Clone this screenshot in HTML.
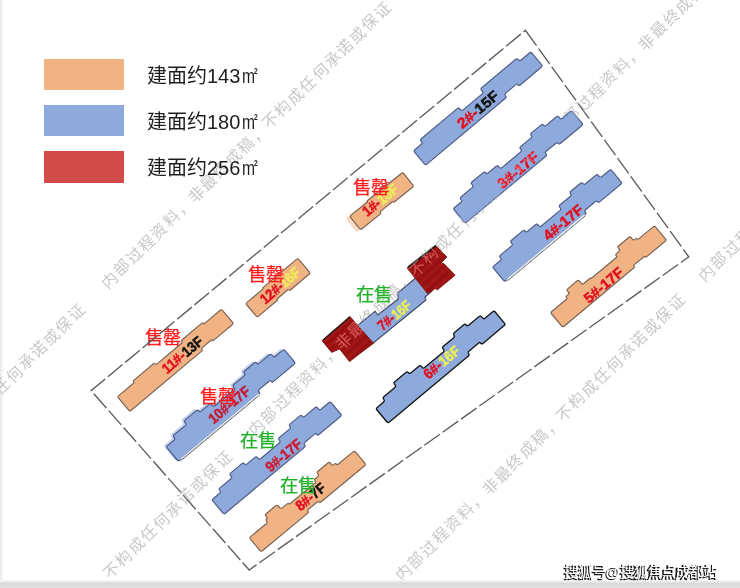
<!DOCTYPE html>
<html lang="zh-CN"><head><meta charset="utf-8">
<style>
html,body{margin:0;padding:0;width:740px;height:588px;overflow:hidden;background:#fff;}
#wrap{position:absolute;left:0;top:0;width:740px;height:588px;filter:blur(0.45px);}
body{font-family:"Liberation Sans",sans-serif;position:relative;}
svg{position:absolute;left:0;top:0;}
.lg{position:absolute;left:147px;font-size:20px;color:#1e1e1e;white-space:nowrap;line-height:1;}
.m{display:inline-block;transform:scaleX(0.78);transform-origin:0 0;margin-left:1.5px;font-weight:normal;}
.m sup{font-size:8.5px;vertical-align:0;position:relative;top:-8.6px;left:-1.4px;font-weight:bold;}
.bl{font-family:"Liberation Sans",sans-serif;font-weight:bold;}
.st{font-family:"Liberation Sans",sans-serif;}
.wm{font-family:"Liberation Sans",sans-serif;font-weight:350;}
.sh{position:absolute;left:563px;top:566px;font-size:14.5px;letter-spacing:-0.15px;color:#1a1a1a;white-space:nowrap;line-height:1;font-weight:bold;}
.sh2{position:absolute;left:564px;top:565.3px;font-size:14.5px;letter-spacing:-0.15px;color:#fff;white-space:nowrap;line-height:1;font-weight:normal;opacity:1}
</style></head><body><div id="wrap">
<svg width="740" height="588" viewBox="0 0 740 588">
  <defs>
    <linearGradient id="lgrad" x1="0" x2="1" y1="0" y2="0">
      <stop offset="0" stop-color="#e8e8e8"/><stop offset="1" stop-color="#fff"/>
    </linearGradient>
    <linearGradient id="bgrad" x1="0" x2="0" y1="0" y2="1">
      <stop offset="0" stop-color="#fdfdfd"/><stop offset="0.2" stop-color="#ebebeb"/><stop offset="0.45" stop-color="#d9d9d9"/><stop offset="0.7" stop-color="#dddddd"/><stop offset="1" stop-color="#e3e3e3"/>
    </linearGradient>
  </defs>
  <rect x="0" y="0" width="4" height="588" fill="url(#lgrad)"/>
  <rect x="44" y="59" width="80" height="31" fill="#f1b383"/>
  <rect x="44" y="105" width="80" height="31" fill="#8eaadc"/>
  <rect x="44" y="151" width="80" height="32" fill="#d14b4b"/>

<path d="M414.7,152.3 Q413.5,150.9 414.9,149.7 L421.3,144.3 Q422.7,143.2 421.5,141.8 L421.1,141.2 Q419.9,139.9 421.3,138.7 L457.2,108.6 Q458.6,107.4 459.8,108.8 L460.6,109.7 Q461.7,111.1 463.1,109.9 L482.2,93.9 Q483.5,92.8 482.4,91.4 L481.5,90.3 Q480.3,88.9 481.7,87.8 L515.7,59.3 Q517.1,58.1 518.3,59.5 L518.5,59.8 Q519.7,61.2 521.1,60.0 L529.4,53.0 Q530.8,51.9 531.9,53.2 L541.5,64.7 Q542.7,66.0 541.3,67.2 L520.1,85.0 Q518.9,85.9 518.0,84.8 L518.0,84.8 Q517.0,83.6 515.9,84.6 L505.7,93.1 Q504.4,94.2 505.5,95.6 L505.6,95.8 Q506.8,97.2 505.4,98.3 L427.0,164.1 Q425.6,165.3 424.4,163.9Z" fill="#8eaadc" stroke="#4f5d86" stroke-width="1.2" stroke-linejoin="round"/>
<path d="M454.3,210.1 Q453.1,208.7 454.5,207.5 L461.0,202.2 Q462.3,201.0 461.2,199.6 L460.9,199.3 Q459.8,197.9 461.2,196.8 L472.2,187.6 Q473.6,186.4 472.5,185.0 L471.9,184.4 Q470.7,183.0 472.1,181.8 L483.2,172.6 Q484.6,171.4 485.7,172.8 L485.7,172.8 Q486.8,174.1 488.1,173.0 L496.2,166.3 Q497.6,165.2 498.7,166.6 L499.4,167.4 Q500.6,168.8 501.9,167.6 L520.7,152.0 Q522.1,150.9 520.9,149.5 L520.5,149.0 Q519.4,147.6 520.8,146.5 L531.1,137.9 Q532.4,136.8 531.3,135.4 L531.3,135.4 Q530.2,134.1 531.5,132.9 L541.2,124.9 Q542.5,123.8 543.6,125.2 L543.6,125.2 Q544.7,126.5 546.1,125.4 L556.4,116.8 Q557.8,115.6 558.9,117.0 L559.8,118.1 Q561.0,119.5 562.4,118.3 L570.2,111.8 Q571.5,110.7 572.7,112.1 L581.9,123.1 Q583.1,124.5 581.7,125.7 L560.2,143.5 Q559.1,144.5 558.1,143.4 L558.1,143.3 Q557.2,142.2 556.0,143.2 L546.2,151.3 Q544.9,152.4 546.0,153.8 L546.0,153.8 Q547.1,155.1 545.8,156.2 L466.7,222.1 Q465.3,223.3 464.1,221.9Z" fill="#8eaadc" stroke="#4f5d86" stroke-width="1.2" stroke-linejoin="round"/>
<path d="M493.6,268.4 Q492.5,267.1 493.9,265.9 L500.3,260.5 Q501.7,259.4 500.6,258.0 L500.3,257.7 Q499.1,256.3 500.5,255.1 L511.6,245.9 Q513.0,244.8 511.8,243.4 L511.3,242.7 Q510.1,241.3 511.5,240.2 L522.6,230.9 Q523.9,229.8 525.0,231.1 L525.1,231.1 Q526.2,232.5 527.5,231.4 L535.5,224.7 Q536.9,223.5 538.1,224.9 L538.8,225.8 Q539.9,227.1 541.3,226.0 L560.1,210.4 Q561.4,209.2 560.3,207.8 L559.9,207.4 Q558.8,206.0 560.1,204.8 L570.5,196.2 Q571.8,195.1 570.7,193.8 L570.7,193.8 Q569.6,192.4 570.9,191.3 L580.5,183.3 Q581.9,182.2 583.0,183.5 L583.0,183.5 Q584.1,184.9 585.5,183.8 L595.8,175.1 Q597.2,174.0 598.3,175.4 L599.2,176.4 Q600.4,177.8 601.8,176.7 L609.2,170.5 Q610.6,169.3 611.8,170.7 L621.0,181.8 Q622.1,183.1 620.7,184.3 L599.6,201.9 Q598.5,202.9 597.5,201.7 L597.5,201.7 Q596.5,200.6 595.4,201.5 L585.6,209.7 Q584.2,210.8 585.4,212.1 L585.4,212.1 Q586.5,213.5 585.1,214.6 L506.0,280.5 Q504.7,281.6 503.5,280.3Z" fill="#8eaadc" stroke="#4f5d86" stroke-width="1.2" stroke-linejoin="round"/>
<path d="M507.7,280.6 L585.3,215.9" stroke="#6a6a6a" stroke-width="1" fill="none"/>
<path d="M506.9,279.7 L584.5,215.0" stroke="#fff" stroke-width="1.1" fill="none"/>
<path d="M551.6,314.0 Q550.5,312.7 551.8,311.5 L566.4,299.3 Q567.3,298.6 566.5,297.6 L566.5,297.6 Q565.7,296.6 566.7,295.8 L568.2,294.6 Q569.6,293.4 568.4,292.0 L567.6,291.1 Q566.5,289.7 567.9,288.6 L577.0,281.0 Q578.4,279.8 579.5,281.2 L581.3,283.3 Q582.4,284.6 583.8,283.5 L590.1,278.2 Q590.5,277.9 590.8,278.3 L590.8,278.3 Q591.1,278.7 591.5,278.3 L616.1,257.8 Q617.2,256.9 616.2,255.7 L616.2,255.7 Q615.3,254.6 616.4,253.6 L618.9,251.5 Q620.3,250.4 619.1,249.0 L618.5,248.3 Q617.4,246.9 618.8,245.8 L628.7,237.5 Q630.0,236.4 631.2,237.7 L632.4,239.2 Q633.6,240.6 634.9,239.4 L635.9,238.6 Q636.6,238.0 637.3,238.8 L637.3,238.8 Q637.9,239.5 638.7,238.9 L653.1,226.9 Q654.5,225.7 655.6,227.1 L665.4,238.8 Q666.5,240.1 665.1,241.3 L646.4,256.9 Q645.8,257.5 645.2,256.8 L645.2,256.8 Q644.6,256.1 643.9,256.7 L634.1,264.9 Q633.3,265.5 634.0,266.3 L634.0,266.3 Q634.7,267.2 633.9,267.8 L564.1,326.2 Q562.7,327.3 561.6,325.9Z" fill="#f1b383" stroke="#7b6455" stroke-width="1.2" stroke-linejoin="round"/>
<path d="M377.0,410.0 Q375.8,408.6 377.2,407.5 L383.6,402.1 Q385.0,400.9 383.9,399.5 L383.6,399.2 Q382.5,397.8 383.8,396.7 L394.9,387.5 Q396.3,386.3 395.1,384.9 L394.6,384.2 Q393.4,382.9 394.8,381.7 L405.9,372.4 Q407.2,371.3 408.3,372.7 L408.4,372.7 Q409.5,374.0 410.8,372.9 L418.8,366.2 Q420.2,365.1 421.4,366.4 L422.1,367.3 Q423.2,368.7 424.6,367.5 L443.4,351.9 Q444.7,350.7 443.6,349.3 L443.2,348.9 Q442.0,347.5 443.4,346.3 L453.8,337.7 Q455.1,336.6 454.0,335.3 L454.0,335.3 Q452.9,333.9 454.2,332.8 L463.8,324.8 Q465.1,323.7 466.3,325.0 L466.3,325.0 Q467.4,326.4 468.7,325.2 L479.1,316.6 Q480.4,315.5 481.6,316.9 L482.5,317.9 Q483.6,319.3 485.0,318.2 L492.7,311.8 Q494.0,310.6 495.2,312.0 L504.4,323.1 Q505.6,324.5 504.2,325.6 L482.9,343.4 Q481.7,344.3 480.8,343.2 L480.8,343.2 Q479.8,342.0 478.7,343.0 L468.9,351.2 Q467.5,352.3 468.6,353.6 L468.7,353.6 Q469.8,355.0 468.4,356.1 L389.4,422.0 Q388.0,423.2 386.8,421.8Z" fill="#8eaadc" stroke="#151515" stroke-width="1.35" stroke-linejoin="round"/>
<path d="M250.5,539.1 Q249.3,537.7 250.7,536.6 L266.5,523.5 Q267.8,522.4 266.7,521.1 L266.4,520.7 Q265.6,519.7 266.5,518.9 L266.6,518.9 Q267.5,518.1 266.7,517.2 L265.9,516.2 Q264.8,514.8 266.2,513.7 L275.7,505.8 Q277.1,504.6 278.3,506.0 L279.7,507.7 Q280.8,509.1 282.2,507.9 L287.5,503.6 Q288.1,503.0 288.7,503.7 L288.7,503.7 Q289.2,504.4 289.9,503.8 L315.0,483.1 Q316.2,482.1 315.2,480.8 L315.2,480.8 Q314.1,479.6 315.4,478.6 L317.8,476.6 Q319.2,475.4 318.0,474.1 L317.8,473.7 Q316.6,472.4 318.0,471.2 L327.9,463.0 Q329.3,461.8 330.5,463.2 L331.4,464.3 Q332.5,465.7 333.9,464.6 L334.6,463.9 Q335.6,463.2 336.4,464.1 L336.4,464.1 Q337.2,465.1 338.1,464.3 L353.1,451.9 Q354.5,450.8 355.7,452.2 L364.8,463.2 Q366.0,464.6 364.6,465.8 L320.6,502.2 Q319.7,502.8 319.1,502.0 L319.0,502.0 Q318.3,501.2 317.5,501.8 L308.1,509.6 Q307.2,510.4 308.0,511.3 L308.0,511.4 Q308.8,512.3 307.8,513.1 L262.4,550.7 Q261.0,551.8 259.8,550.4Z" fill="#f1b383" stroke="#7b6455" stroke-width="1.2" stroke-linejoin="round"/>
<path d="M213.0,501.2 Q211.9,499.8 213.2,498.7 L219.7,493.3 Q221.1,492.1 219.9,490.7 L219.7,490.4 Q218.5,489.0 219.9,487.9 L230.9,478.7 Q232.3,477.5 231.2,476.1 L230.6,475.4 Q229.4,474.1 230.8,472.9 L241.9,463.6 Q243.2,462.5 244.4,463.8 L244.4,463.9 Q245.5,465.2 246.8,464.1 L254.8,457.4 Q256.2,456.2 257.4,457.6 L258.1,458.4 Q259.2,459.8 260.6,458.7 L279.3,443.0 Q280.7,441.9 279.6,440.5 L279.2,440.0 Q278.0,438.6 279.4,437.5 L289.7,428.9 Q291.1,427.7 290.0,426.4 L289.9,426.4 Q288.8,425.1 290.2,423.9 L299.8,415.9 Q301.1,414.8 302.2,416.1 L302.2,416.1 Q303.4,417.5 304.7,416.4 L315.0,407.7 Q316.4,406.6 317.6,408.0 L318.4,409.0 Q319.6,410.4 321.0,409.3 L328.8,402.7 Q330.2,401.6 331.4,402.9 L340.6,414.0 Q341.8,415.4 340.4,416.5 L318.9,434.5 Q317.7,435.5 316.8,434.3 L316.8,434.3 Q315.8,433.1 314.6,434.1 L304.9,442.3 Q303.5,443.4 304.6,444.7 L304.6,444.8 Q305.8,446.1 304.4,447.2 L225.4,513.2 Q224.0,514.4 222.9,513.0Z" fill="#8eaadc" stroke="#4f5d86" stroke-width="1.2" stroke-linejoin="round"/>
<path d="M167.4,448.1 Q166.2,446.8 167.6,445.6 L174.0,440.2 Q175.4,439.1 174.3,437.7 L174.0,437.4 Q172.9,436.0 174.2,434.8 L185.3,425.6 Q186.7,424.5 185.5,423.1 L185.0,422.4 Q183.8,421.0 185.2,419.9 L196.3,410.6 Q197.6,409.5 198.7,410.8 L198.8,410.8 Q199.9,412.2 201.2,411.1 L209.2,404.4 Q210.6,403.2 211.8,404.6 L212.5,405.4 Q213.6,406.8 215.0,405.7 L233.8,390.0 Q235.1,388.9 234.0,387.5 L233.6,387.0 Q232.5,385.7 233.8,384.5 L244.2,375.9 Q245.5,374.8 244.4,373.4 L244.4,373.4 Q243.3,372.1 244.6,371.0 L254.2,363.0 Q255.6,361.8 256.7,363.2 L256.7,363.2 Q257.8,364.5 259.1,363.4 L269.5,354.8 Q270.9,353.6 272.0,355.0 L272.9,356.1 Q274.1,357.5 275.4,356.3 L282.6,350.4 Q284.0,349.2 285.1,350.6 L294.3,361.7 Q295.5,363.1 294.1,364.2 L273.3,381.6 Q272.1,382.5 271.2,381.4 L271.2,381.4 Q270.2,380.2 269.1,381.2 L259.3,389.3 Q257.9,390.5 259.0,391.8 L259.1,391.8 Q260.2,393.1 258.8,394.3 L179.8,460.2 Q178.4,461.3 177.2,460.0Z" fill="#8eaadc" opacity="0.55" transform="translate(-2.8,-0.8)"/>
<path d="M167.4,448.1 Q166.2,446.8 167.6,445.6 L174.0,440.2 Q175.4,439.1 174.3,437.7 L174.0,437.4 Q172.9,436.0 174.2,434.8 L185.3,425.6 Q186.7,424.5 185.5,423.1 L185.0,422.4 Q183.8,421.0 185.2,419.9 L196.3,410.6 Q197.6,409.5 198.7,410.8 L198.8,410.8 Q199.9,412.2 201.2,411.1 L209.2,404.4 Q210.6,403.2 211.8,404.6 L212.5,405.4 Q213.6,406.8 215.0,405.7 L233.8,390.0 Q235.1,388.9 234.0,387.5 L233.6,387.0 Q232.5,385.7 233.8,384.5 L244.2,375.9 Q245.5,374.8 244.4,373.4 L244.4,373.4 Q243.3,372.1 244.6,371.0 L254.2,363.0 Q255.6,361.8 256.7,363.2 L256.7,363.2 Q257.8,364.5 259.1,363.4 L269.5,354.8 Q270.9,353.6 272.0,355.0 L272.9,356.1 Q274.1,357.5 275.4,356.3 L282.6,350.4 Q284.0,349.2 285.1,350.6 L294.3,361.7 Q295.5,363.1 294.1,364.2 L273.3,381.6 Q272.1,382.5 271.2,381.4 L271.2,381.4 Q270.2,380.2 269.1,381.2 L259.3,389.3 Q257.9,390.5 259.0,391.8 L259.1,391.8 Q260.2,393.1 258.8,394.3 L179.8,460.2 Q178.4,461.3 177.2,460.0Z" fill="#8eaadc" stroke="#4f5d86" stroke-width="1.2" stroke-linejoin="round"/>
<path d="M181.4,460.3 L259.7,395.0" stroke="#6a6a6a" stroke-width="1" fill="none"/>
<path d="M180.6,459.3 L259.0,394.0" stroke="#fff" stroke-width="1.1" fill="none"/>
<path d="M118.6,398.1 Q117.4,396.7 118.8,395.6 L133.5,383.2 Q134.3,382.6 133.6,381.8 L133.6,381.8 Q133.0,381.0 133.7,380.4 L153.5,363.8 Q154.4,363.0 155.1,363.9 L155.1,363.9 Q155.9,364.8 156.8,364.1 L181.8,343.0 Q182.7,342.3 181.9,341.4 L181.9,341.4 Q181.2,340.5 182.1,339.8 L201.9,323.1 Q202.6,322.5 203.3,323.2 L203.3,323.3 Q203.9,324.0 204.7,323.4 L220.2,310.3 Q221.6,309.2 222.7,310.6 L232.4,322.1 Q233.6,323.5 232.2,324.7 L213.5,340.4 Q212.9,340.9 212.3,340.3 L212.3,340.3 Q211.8,339.6 211.1,340.2 L202.0,347.9 Q201.1,348.6 201.8,349.5 L201.8,349.5 Q202.6,350.4 201.7,351.1 L131.2,410.3 Q129.8,411.5 128.7,410.1Z" fill="#f1b383" stroke="#7b6455" stroke-width="1.2" stroke-linejoin="round"/>
<path d="M350.8,217.7 Q349.6,216.3 351.0,215.1 L367.2,202.2 Q367.6,201.9 367.2,201.5 L367.2,201.5 Q366.9,201.1 367.3,200.8 L401.3,173.5 Q402.7,172.3 403.8,173.7 L412.7,184.8 Q413.9,186.2 412.5,187.3 L394.2,202.0 Q393.7,202.4 393.3,201.9 L393.3,201.9 Q392.9,201.4 392.3,201.8 L380.8,211.1 Q380.0,211.8 380.6,212.5 L380.6,212.5 Q381.2,213.3 380.5,213.9 L362.0,228.8 Q360.6,229.9 359.5,228.5Z" fill="#f1b383" opacity="0.5" transform="translate(-4,2.5)"/>
<path d="M350.8,217.7 Q349.6,216.3 351.0,215.1 L367.2,202.2 Q367.6,201.9 367.2,201.5 L367.2,201.5 Q366.9,201.1 367.3,200.8 L401.3,173.5 Q402.7,172.3 403.8,173.7 L412.7,184.8 Q413.9,186.2 412.5,187.3 L394.2,202.0 Q393.7,202.4 393.3,201.9 L393.3,201.9 Q392.9,201.4 392.3,201.8 L380.8,211.1 Q380.0,211.8 380.6,212.5 L380.6,212.5 Q381.2,213.3 380.5,213.9 L362.0,228.8 Q360.6,229.9 359.5,228.5Z" fill="#f1b383" stroke="#7b6455" stroke-width="1.2" stroke-linejoin="round"/>
<path d="M246.9,305.0 Q245.7,303.6 247.1,302.4 L262.9,289.1 Q263.3,288.8 262.9,288.4 L262.9,288.3 Q262.6,287.9 263.0,287.6 L296.4,259.4 Q297.8,258.3 299.0,259.6 L309.2,271.8 Q310.4,273.2 309.0,274.3 L290.4,290.0 Q289.7,290.6 289.1,289.9 L289.1,289.9 Q288.5,289.2 287.8,289.8 L277.6,298.5 Q277.1,298.9 277.5,299.4 L277.5,299.4 Q277.9,299.9 277.4,300.3 L258.6,316.1 Q257.3,317.3 256.1,315.9Z" fill="#f1b383" stroke="#7b6455" stroke-width="1.2" stroke-linejoin="round"/>
<path d="M352,330 L375.2,311.3 L377.8,315 L398.2,299 L397.8,293 L418,276 L432,291 L425,297 L426,300 L372,344 L360,334Z" fill="#8eaadc" stroke="#3d4a66" stroke-width="1.1" stroke-linejoin="round"/>
<defs><pattern id="streak" patternUnits="userSpaceOnUse" width="40" height="7" patternTransform="rotate(-42)"><rect width="40" height="7" fill="#9c1212"/><rect y="1" width="40" height="1.3" fill="#b02222" opacity="0.5"/><rect y="4.5" width="40" height="1.2" fill="#780a0a" opacity="0.45"/></pattern></defs>
<path d="M322.1,340.8 L350.1,316.7 L373.5,343.2 L349.5,361.6 L339.6,349.0 L331.7,352.4Z" fill="url(#streak)" stroke="#7a0b0b" stroke-width="0.8" stroke-linejoin="round"/>
<path d="M407.1,268.1 L435.7,245.7 L446.9,256.9 L440.8,263.2 L443.9,263.6 L455.1,275.2 L437.2,290 L435.5,288.5 L427.6,293.6Z" fill="url(#streak)" stroke="#7a0b0b" stroke-width="0.8" stroke-linejoin="round"/>
<path d="M323,340 L350.1,316.7" stroke="#111" stroke-width="1.6" opacity="0.8" fill="none"/>
<path d="M408,267.4 L435.7,245.7" stroke="#111" stroke-width="2" opacity="0.85" fill="none"/>
<text class="bl" x="0" y="0" font-size="14.5" stroke-width="0.5" text-anchor="middle" dominant-baseline="central" textLength="49.5" lengthAdjust="spacingAndGlyphs" transform="translate(478.0,109.5) rotate(-39.99)"><tspan fill="#e01020" stroke="#e01020">2#-</tspan><tspan fill="#111" stroke="#111">15F</tspan></text>
<text class="bl" x="0" y="0" font-size="14.5" stroke-width="0.5" text-anchor="middle" dominant-baseline="central" textLength="48.5" lengthAdjust="spacingAndGlyphs" transform="translate(518.0,170.2) rotate(-39.80)"><tspan fill="#e01020" stroke="#e01020">3#-17F</tspan></text>
<text class="bl" x="0" y="0" font-size="14.5" stroke-width="0.5" text-anchor="middle" dominant-baseline="central" textLength="47.0" lengthAdjust="spacingAndGlyphs" transform="translate(563.2,222.3) rotate(-39.80)"><tspan fill="#e01020" stroke="#e01020">4#-17F</tspan></text>
<text class="bl" x="0" y="0" font-size="14.5" stroke-width="0.5" text-anchor="middle" dominant-baseline="central" textLength="46.5" lengthAdjust="spacingAndGlyphs" transform="translate(603.7,285.2) rotate(-39.90)"><tspan fill="#e01020" stroke="#e01020">5#-17F</tspan></text>
<text class="bl" x="0" y="0" font-size="14.5" stroke-width="0.5" text-anchor="middle" dominant-baseline="central" textLength="42.5" lengthAdjust="spacingAndGlyphs" transform="translate(441.7,362.2) rotate(-39.83)"><tspan fill="#e01020" stroke="#e01020">6#-</tspan><tspan fill="#eeee58" stroke="#eeee58">16F</tspan></text>
<text class="bl" x="0" y="0" font-size="14.5" stroke-width="0.5" text-anchor="middle" dominant-baseline="central" textLength="34.2" lengthAdjust="spacingAndGlyphs" transform="translate(310.5,496.8) rotate(-39.58)"><tspan fill="#e01020" stroke="#e01020">8#-</tspan><tspan fill="#111" stroke="#111">7F</tspan></text>
<text class="bl" x="0" y="0" font-size="14.5" stroke-width="0.5" text-anchor="middle" dominant-baseline="central" textLength="42.8" lengthAdjust="spacingAndGlyphs" transform="translate(283.6,455.3) rotate(-39.89)"><tspan fill="#cc1a30" stroke="#cc1a30">9#-17F</tspan></text>
<text class="bl" x="0" y="0" font-size="14.5" stroke-width="0.5" text-anchor="middle" dominant-baseline="central" textLength="49.5" lengthAdjust="spacingAndGlyphs" transform="translate(229.2,404.7) rotate(-39.82)"><tspan fill="#c41c34" stroke="#c41c34">10#-17F</tspan></text>
<text class="bl" x="0" y="0" font-size="14.5" stroke-width="0.5" text-anchor="middle" dominant-baseline="central" textLength="48.7" lengthAdjust="spacingAndGlyphs" transform="translate(182.3,354.9) rotate(-40.05)"><tspan fill="#e01020" stroke="#e01020">11#-</tspan><tspan fill="#111" stroke="#111">13F</tspan></text>
<text class="bl" x="0" y="0" font-size="14.5" stroke-width="0.5" text-anchor="middle" dominant-baseline="central" textLength="41.5" lengthAdjust="spacingAndGlyphs" transform="translate(380.3,200.2) rotate(-38.79)"><tspan fill="#e01020" stroke="#e01020">1#-</tspan><tspan fill="#eeee58" stroke="#eeee58">16F</tspan></text>
<text class="bl" x="0" y="0" font-size="14.5" stroke-width="0.5" text-anchor="middle" dominant-baseline="central" textLength="47.5" lengthAdjust="spacingAndGlyphs" transform="translate(280.1,285.6) rotate(-40.12)"><tspan fill="#e01020" stroke="#e01020">12#-</tspan><tspan fill="#eeee58" stroke="#eeee58">16F</tspan></text>
<text class="bl" x="0" y="0" font-size="14.5" stroke-width="0.5" text-anchor="middle" dominant-baseline="central" textLength="38.5" lengthAdjust="spacingAndGlyphs" transform="translate(394.3,315.2) rotate(-39)"><tspan fill="#e01020" stroke="#e01020">7#-</tspan><tspan fill="#eeee58" stroke="#eeee58">16F</tspan></text>
<text class="st" x="370.6" y="187.7" font-size="18.3" fill="#ff1a1a" stroke="#ff1a1a" stroke-width="0.25" text-anchor="middle" dominant-baseline="central">售罄</text>
<text class="st" x="266.4" y="274.6" font-size="18.3" fill="#ff1a1a" stroke="#ff1a1a" stroke-width="0.25" text-anchor="middle" dominant-baseline="central">售罄</text>
<text class="st" x="162.6" y="337.4" font-size="18.3" fill="#ff1a1a" stroke="#ff1a1a" stroke-width="0.25" text-anchor="middle" dominant-baseline="central">售罄</text>
<text class="st" x="217.6" y="396.3" font-size="18.3" fill="#ff1a1a" stroke="#ff1a1a" stroke-width="0.25" text-anchor="middle" dominant-baseline="central">售罄</text>
<text class="st" x="373.7" y="294.0" font-size="18.3" fill="#22b02a" stroke="#22b02a" stroke-width="0.25" text-anchor="middle" dominant-baseline="central">在售</text>
<text class="st" x="258.3" y="440.7" font-size="18.3" fill="#22b02a" stroke="#22b02a" stroke-width="0.25" text-anchor="middle" dominant-baseline="central">在售</text>
<text class="st" x="297.6" y="485.2" font-size="18.3" fill="#22b02a" stroke="#22b02a" stroke-width="0.25" text-anchor="middle" dominant-baseline="central">在售</text>
  <polygon points="525.4,30.3 688.8,256.9 249.2,570 91.1,390.7" fill="none" stroke="#5c5c5c" stroke-width="1.35" stroke-dasharray="19 3.5"/>

<g style="mix-blend-mode:luminosity">
<text class="wm" x="0" y="0" font-size="15.8" fill="#a6a6a6" fill-opacity="0.62" text-anchor="middle" dominant-baseline="central" transform="translate(-10.3,398.5) rotate(-44.65)">成</text>
<text class="wm" x="0" y="0" font-size="15.8" fill="#a6a6a6" fill-opacity="0.62" text-anchor="middle" dominant-baseline="central" transform="translate(2.1,386.3) rotate(-44.65)">任</text>
<text class="wm" x="0" y="0" font-size="15.8" fill="#a6a6a6" fill-opacity="0.62" text-anchor="middle" dominant-baseline="central" transform="translate(14.5,374.0) rotate(-44.65)">何</text>
<text class="wm" x="0" y="0" font-size="15.8" fill="#a6a6a6" fill-opacity="0.62" text-anchor="middle" dominant-baseline="central" transform="translate(26.9,361.8) rotate(-44.65)">承</text>
<text class="wm" x="0" y="0" font-size="15.8" fill="#a6a6a6" fill-opacity="0.62" text-anchor="middle" dominant-baseline="central" transform="translate(39.3,349.5) rotate(-44.65)">诺</text>
<text class="wm" x="0" y="0" font-size="15.8" fill="#a6a6a6" fill-opacity="0.62" text-anchor="middle" dominant-baseline="central" transform="translate(51.8,337.2) rotate(-44.65)">或</text>
<text class="wm" x="0" y="0" font-size="15.8" fill="#a6a6a6" fill-opacity="0.62" text-anchor="middle" dominant-baseline="central" transform="translate(64.2,325.0) rotate(-44.65)">保</text>
<text class="wm" x="0" y="0" font-size="15.8" fill="#a6a6a6" fill-opacity="0.62" text-anchor="middle" dominant-baseline="central" transform="translate(76.6,312.7) rotate(-44.65)">证</text>
<text class="wm" x="0" y="0" font-size="15.8" fill="#a6a6a6" fill-opacity="0.62" text-anchor="middle" dominant-baseline="central" transform="translate(109.6,280.1) rotate(-44.65)">内</text>
<text class="wm" x="0" y="0" font-size="15.8" fill="#a6a6a6" fill-opacity="0.62" text-anchor="middle" dominant-baseline="central" transform="translate(122.0,267.8) rotate(-44.65)">部</text>
<text class="wm" x="0" y="0" font-size="15.8" fill="#a6a6a6" fill-opacity="0.62" text-anchor="middle" dominant-baseline="central" transform="translate(134.4,255.6) rotate(-44.65)">过</text>
<text class="wm" x="0" y="0" font-size="15.8" fill="#a6a6a6" fill-opacity="0.62" text-anchor="middle" dominant-baseline="central" transform="translate(146.8,243.3) rotate(-44.65)">程</text>
<text class="wm" x="0" y="0" font-size="15.8" fill="#a6a6a6" fill-opacity="0.62" text-anchor="middle" dominant-baseline="central" transform="translate(159.2,231.1) rotate(-44.65)">资</text>
<text class="wm" x="0" y="0" font-size="15.8" fill="#a6a6a6" fill-opacity="0.62" text-anchor="middle" dominant-baseline="central" transform="translate(171.6,218.8) rotate(-44.65)">料</text>
<text class="wm" x="0" y="0" font-size="15.8" fill="#a6a6a6" fill-opacity="0.62" text-anchor="middle" dominant-baseline="central" transform="translate(184.0,206.6) rotate(-44.65)">，</text>
<text class="wm" x="0" y="0" font-size="15.8" fill="#a6a6a6" fill-opacity="0.62" text-anchor="middle" dominant-baseline="central" transform="translate(196.4,194.3) rotate(-44.65)">非</text>
<text class="wm" x="0" y="0" font-size="15.8" fill="#a6a6a6" fill-opacity="0.62" text-anchor="middle" dominant-baseline="central" transform="translate(208.8,182.1) rotate(-44.65)">最</text>
<text class="wm" x="0" y="0" font-size="15.8" fill="#a6a6a6" fill-opacity="0.62" text-anchor="middle" dominant-baseline="central" transform="translate(221.3,169.8) rotate(-44.65)">终</text>
<text class="wm" x="0" y="0" font-size="15.8" fill="#a6a6a6" fill-opacity="0.62" text-anchor="middle" dominant-baseline="central" transform="translate(233.7,157.5) rotate(-44.65)">成</text>
<text class="wm" x="0" y="0" font-size="15.8" fill="#a6a6a6" fill-opacity="0.62" text-anchor="middle" dominant-baseline="central" transform="translate(246.1,145.3) rotate(-44.65)">稿</text>
<text class="wm" x="0" y="0" font-size="15.8" fill="#a6a6a6" fill-opacity="0.62" text-anchor="middle" dominant-baseline="central" transform="translate(258.5,133.0) rotate(-44.65)">，</text>
<text class="wm" x="0" y="0" font-size="15.8" fill="#a6a6a6" fill-opacity="0.62" text-anchor="middle" dominant-baseline="central" transform="translate(270.9,120.8) rotate(-44.65)">不</text>
<text class="wm" x="0" y="0" font-size="15.8" fill="#a6a6a6" fill-opacity="0.62" text-anchor="middle" dominant-baseline="central" transform="translate(283.3,108.5) rotate(-44.65)">构</text>
<text class="wm" x="0" y="0" font-size="15.8" fill="#a6a6a6" fill-opacity="0.62" text-anchor="middle" dominant-baseline="central" transform="translate(295.7,96.3) rotate(-44.65)">成</text>
<text class="wm" x="0" y="0" font-size="15.8" fill="#a6a6a6" fill-opacity="0.62" text-anchor="middle" dominant-baseline="central" transform="translate(308.1,84.0) rotate(-44.65)">任</text>
<text class="wm" x="0" y="0" font-size="15.8" fill="#a6a6a6" fill-opacity="0.62" text-anchor="middle" dominant-baseline="central" transform="translate(320.5,71.7) rotate(-44.65)">何</text>
<text class="wm" x="0" y="0" font-size="15.8" fill="#a6a6a6" fill-opacity="0.62" text-anchor="middle" dominant-baseline="central" transform="translate(332.9,59.5) rotate(-44.65)">承</text>
<text class="wm" x="0" y="0" font-size="15.8" fill="#a6a6a6" fill-opacity="0.62" text-anchor="middle" dominant-baseline="central" transform="translate(345.3,47.2) rotate(-44.65)">诺</text>
<text class="wm" x="0" y="0" font-size="15.8" fill="#a6a6a6" fill-opacity="0.62" text-anchor="middle" dominant-baseline="central" transform="translate(357.7,35.0) rotate(-44.65)">或</text>
<text class="wm" x="0" y="0" font-size="15.8" fill="#a6a6a6" fill-opacity="0.62" text-anchor="middle" dominant-baseline="central" transform="translate(370.1,22.7) rotate(-44.65)">保</text>
<text class="wm" x="0" y="0" font-size="15.8" fill="#a6a6a6" fill-opacity="0.62" text-anchor="middle" dominant-baseline="central" transform="translate(382.5,10.5) rotate(-44.65)">证</text>
<text class="wm" x="0" y="0" font-size="15.8" fill="#a6a6a6" fill-opacity="0.62" text-anchor="middle" dominant-baseline="central" transform="translate(412.7,-19.3) rotate(-44.65)">内</text>
<text class="wm" x="0" y="0" font-size="15.8" fill="#a6a6a6" fill-opacity="0.62" text-anchor="middle" dominant-baseline="central" transform="translate(87.1,594.7) rotate(-44.65)">稿</text>
<text class="wm" x="0" y="0" font-size="15.8" fill="#a6a6a6" fill-opacity="0.62" text-anchor="middle" dominant-baseline="central" transform="translate(99.5,582.5) rotate(-44.65)">，</text>
<text class="wm" x="0" y="0" font-size="15.8" fill="#a6a6a6" fill-opacity="0.62" text-anchor="middle" dominant-baseline="central" transform="translate(111.9,570.2) rotate(-44.65)">不</text>
<text class="wm" x="0" y="0" font-size="15.8" fill="#a6a6a6" fill-opacity="0.62" text-anchor="middle" dominant-baseline="central" transform="translate(124.3,558.0) rotate(-44.65)">构</text>
<text class="wm" x="0" y="0" font-size="15.8" fill="#a6a6a6" fill-opacity="0.62" text-anchor="middle" dominant-baseline="central" transform="translate(136.7,545.7) rotate(-44.65)">成</text>
<text class="wm" x="0" y="0" font-size="15.8" fill="#a6a6a6" fill-opacity="0.62" text-anchor="middle" dominant-baseline="central" transform="translate(149.1,533.5) rotate(-44.65)">任</text>
<text class="wm" x="0" y="0" font-size="15.8" fill="#a6a6a6" fill-opacity="0.62" text-anchor="middle" dominant-baseline="central" transform="translate(161.5,521.2) rotate(-44.65)">何</text>
<text class="wm" x="0" y="0" font-size="15.8" fill="#a6a6a6" fill-opacity="0.62" text-anchor="middle" dominant-baseline="central" transform="translate(173.9,509.0) rotate(-44.65)">承</text>
<text class="wm" x="0" y="0" font-size="15.8" fill="#a6a6a6" fill-opacity="0.62" text-anchor="middle" dominant-baseline="central" transform="translate(186.3,496.7) rotate(-44.65)">诺</text>
<text class="wm" x="0" y="0" font-size="15.8" fill="#a6a6a6" fill-opacity="0.62" text-anchor="middle" dominant-baseline="central" transform="translate(198.8,484.4) rotate(-44.65)">或</text>
<text class="wm" x="0" y="0" font-size="15.8" fill="#a6a6a6" fill-opacity="0.62" text-anchor="middle" dominant-baseline="central" transform="translate(211.2,472.2) rotate(-44.65)">保</text>
<text class="wm" x="0" y="0" font-size="15.8" fill="#a6a6a6" fill-opacity="0.62" text-anchor="middle" dominant-baseline="central" transform="translate(223.6,459.9) rotate(-44.65)">证</text>
<text class="wm" x="0" y="0" font-size="15.8" fill="#a6a6a6" fill-opacity="0.62" text-anchor="middle" dominant-baseline="central" transform="translate(256.6,427.3) rotate(-44.65)">内</text>
<text class="wm" x="0" y="0" font-size="15.8" fill="#a6a6a6" fill-opacity="0.62" text-anchor="middle" dominant-baseline="central" transform="translate(269.0,415.0) rotate(-44.65)">部</text>
<text class="wm" x="0" y="0" font-size="15.8" fill="#a6a6a6" fill-opacity="0.62" text-anchor="middle" dominant-baseline="central" transform="translate(281.4,402.8) rotate(-44.65)">过</text>
<text class="wm" x="0" y="0" font-size="15.8" fill="#a6a6a6" fill-opacity="0.62" text-anchor="middle" dominant-baseline="central" transform="translate(293.8,390.5) rotate(-44.65)">程</text>
<text class="wm" x="0" y="0" font-size="15.8" fill="#a6a6a6" fill-opacity="0.62" text-anchor="middle" dominant-baseline="central" transform="translate(306.2,378.3) rotate(-44.65)">资</text>
<text class="wm" x="0" y="0" font-size="15.8" fill="#a6a6a6" fill-opacity="0.62" text-anchor="middle" dominant-baseline="central" transform="translate(318.6,366.0) rotate(-44.65)">料</text>
<text class="wm" x="0" y="0" font-size="15.8" fill="#a6a6a6" fill-opacity="0.62" text-anchor="middle" dominant-baseline="central" transform="translate(331.0,353.8) rotate(-44.65)">，</text>
<text class="wm" x="0" y="0" font-size="15.8" fill="#a6a6a6" fill-opacity="0.62" text-anchor="middle" dominant-baseline="central" transform="translate(343.4,341.5) rotate(-44.65)">非</text>
<text class="wm" x="0" y="0" font-size="15.8" fill="#a6a6a6" fill-opacity="0.62" text-anchor="middle" dominant-baseline="central" transform="translate(355.8,329.3) rotate(-44.65)">最</text>
<text class="wm" x="0" y="0" font-size="15.8" fill="#a6a6a6" fill-opacity="0.62" text-anchor="middle" dominant-baseline="central" transform="translate(368.3,317.0) rotate(-44.65)">终</text>
<text class="wm" x="0" y="0" font-size="15.8" fill="#a6a6a6" fill-opacity="0.62" text-anchor="middle" dominant-baseline="central" transform="translate(380.7,304.7) rotate(-44.65)">成</text>
<text class="wm" x="0" y="0" font-size="15.8" fill="#a6a6a6" fill-opacity="0.62" text-anchor="middle" dominant-baseline="central" transform="translate(393.1,292.5) rotate(-44.65)">稿</text>
<text class="wm" x="0" y="0" font-size="15.8" fill="#a6a6a6" fill-opacity="0.62" text-anchor="middle" dominant-baseline="central" transform="translate(405.5,280.2) rotate(-44.65)">，</text>
<text class="wm" x="0" y="0" font-size="15.8" fill="#a6a6a6" fill-opacity="0.62" text-anchor="middle" dominant-baseline="central" transform="translate(417.9,268.0) rotate(-44.65)">不</text>
<text class="wm" x="0" y="0" font-size="15.8" fill="#a6a6a6" fill-opacity="0.62" text-anchor="middle" dominant-baseline="central" transform="translate(430.3,255.7) rotate(-44.65)">构</text>
<text class="wm" x="0" y="0" font-size="15.8" fill="#a6a6a6" fill-opacity="0.62" text-anchor="middle" dominant-baseline="central" transform="translate(442.7,243.5) rotate(-44.65)">成</text>
<text class="wm" x="0" y="0" font-size="15.8" fill="#a6a6a6" fill-opacity="0.62" text-anchor="middle" dominant-baseline="central" transform="translate(455.1,231.2) rotate(-44.65)">任</text>
<text class="wm" x="0" y="0" font-size="15.8" fill="#a6a6a6" fill-opacity="0.62" text-anchor="middle" dominant-baseline="central" transform="translate(467.5,218.9) rotate(-44.65)">何</text>
<text class="wm" x="0" y="0" font-size="15.8" fill="#a6a6a6" fill-opacity="0.62" text-anchor="middle" dominant-baseline="central" transform="translate(479.9,206.7) rotate(-44.65)">承</text>
<text class="wm" x="0" y="0" font-size="15.8" fill="#a6a6a6" fill-opacity="0.62" text-anchor="middle" dominant-baseline="central" transform="translate(492.3,194.4) rotate(-44.65)">诺</text>
<text class="wm" x="0" y="0" font-size="15.8" fill="#a6a6a6" fill-opacity="0.62" text-anchor="middle" dominant-baseline="central" transform="translate(504.7,182.2) rotate(-44.65)">或</text>
<text class="wm" x="0" y="0" font-size="15.8" fill="#a6a6a6" fill-opacity="0.62" text-anchor="middle" dominant-baseline="central" transform="translate(517.1,169.9) rotate(-44.65)">保</text>
<text class="wm" x="0" y="0" font-size="15.8" fill="#a6a6a6" fill-opacity="0.62" text-anchor="middle" dominant-baseline="central" transform="translate(529.5,157.7) rotate(-44.65)">证</text>
<text class="wm" x="0" y="0" font-size="15.8" fill="#a6a6a6" fill-opacity="0.62" text-anchor="middle" dominant-baseline="central" transform="translate(559.7,127.9) rotate(-44.65)">内</text>
<text class="wm" x="0" y="0" font-size="15.8" fill="#a6a6a6" fill-opacity="0.62" text-anchor="middle" dominant-baseline="central" transform="translate(572.1,115.6) rotate(-44.65)">部</text>
<text class="wm" x="0" y="0" font-size="15.8" fill="#a6a6a6" fill-opacity="0.62" text-anchor="middle" dominant-baseline="central" transform="translate(584.5,103.3) rotate(-44.65)">过</text>
<text class="wm" x="0" y="0" font-size="15.8" fill="#a6a6a6" fill-opacity="0.62" text-anchor="middle" dominant-baseline="central" transform="translate(596.9,91.1) rotate(-44.65)">程</text>
<text class="wm" x="0" y="0" font-size="15.8" fill="#a6a6a6" fill-opacity="0.62" text-anchor="middle" dominant-baseline="central" transform="translate(609.3,78.8) rotate(-44.65)">资</text>
<text class="wm" x="0" y="0" font-size="15.8" fill="#a6a6a6" fill-opacity="0.62" text-anchor="middle" dominant-baseline="central" transform="translate(621.8,66.6) rotate(-44.65)">料</text>
<text class="wm" x="0" y="0" font-size="15.8" fill="#a6a6a6" fill-opacity="0.62" text-anchor="middle" dominant-baseline="central" transform="translate(634.2,54.3) rotate(-44.65)">，</text>
<text class="wm" x="0" y="0" font-size="15.8" fill="#a6a6a6" fill-opacity="0.62" text-anchor="middle" dominant-baseline="central" transform="translate(646.6,42.1) rotate(-44.65)">非</text>
<text class="wm" x="0" y="0" font-size="15.8" fill="#a6a6a6" fill-opacity="0.62" text-anchor="middle" dominant-baseline="central" transform="translate(659.0,29.8) rotate(-44.65)">最</text>
<text class="wm" x="0" y="0" font-size="15.8" fill="#a6a6a6" fill-opacity="0.62" text-anchor="middle" dominant-baseline="central" transform="translate(671.4,17.5) rotate(-44.65)">终</text>
<text class="wm" x="0" y="0" font-size="15.8" fill="#a6a6a6" fill-opacity="0.62" text-anchor="middle" dominant-baseline="central" transform="translate(683.8,5.3) rotate(-44.65)">成</text>
<text class="wm" x="0" y="0" font-size="15.8" fill="#a6a6a6" fill-opacity="0.62" text-anchor="middle" dominant-baseline="central" transform="translate(696.2,-7.0) rotate(-44.65)">稿</text>
<text class="wm" x="0" y="0" font-size="15.8" fill="#a6a6a6" fill-opacity="0.62" text-anchor="middle" dominant-baseline="central" transform="translate(708.6,-19.2) rotate(-44.65)">，</text>
<text class="wm" x="0" y="0" font-size="15.8" fill="#a6a6a6" fill-opacity="0.62" text-anchor="middle" dominant-baseline="central" transform="translate(403.6,572.5) rotate(-44.65)">内</text>
<text class="wm" x="0" y="0" font-size="15.8" fill="#a6a6a6" fill-opacity="0.62" text-anchor="middle" dominant-baseline="central" transform="translate(416.0,560.2) rotate(-44.65)">部</text>
<text class="wm" x="0" y="0" font-size="15.8" fill="#a6a6a6" fill-opacity="0.62" text-anchor="middle" dominant-baseline="central" transform="translate(428.4,548.0) rotate(-44.65)">过</text>
<text class="wm" x="0" y="0" font-size="15.8" fill="#a6a6a6" fill-opacity="0.62" text-anchor="middle" dominant-baseline="central" transform="translate(440.8,535.7) rotate(-44.65)">程</text>
<text class="wm" x="0" y="0" font-size="15.8" fill="#a6a6a6" fill-opacity="0.62" text-anchor="middle" dominant-baseline="central" transform="translate(453.2,523.5) rotate(-44.65)">资</text>
<text class="wm" x="0" y="0" font-size="15.8" fill="#a6a6a6" fill-opacity="0.62" text-anchor="middle" dominant-baseline="central" transform="translate(465.6,511.2) rotate(-44.65)">料</text>
<text class="wm" x="0" y="0" font-size="15.8" fill="#a6a6a6" fill-opacity="0.62" text-anchor="middle" dominant-baseline="central" transform="translate(478.0,499.0) rotate(-44.65)">，</text>
<text class="wm" x="0" y="0" font-size="15.8" fill="#a6a6a6" fill-opacity="0.62" text-anchor="middle" dominant-baseline="central" transform="translate(490.4,486.7) rotate(-44.65)">非</text>
<text class="wm" x="0" y="0" font-size="15.8" fill="#a6a6a6" fill-opacity="0.62" text-anchor="middle" dominant-baseline="central" transform="translate(502.8,474.5) rotate(-44.65)">最</text>
<text class="wm" x="0" y="0" font-size="15.8" fill="#a6a6a6" fill-opacity="0.62" text-anchor="middle" dominant-baseline="central" transform="translate(515.3,462.2) rotate(-44.65)">终</text>
<text class="wm" x="0" y="0" font-size="15.8" fill="#a6a6a6" fill-opacity="0.62" text-anchor="middle" dominant-baseline="central" transform="translate(527.7,449.9) rotate(-44.65)">成</text>
<text class="wm" x="0" y="0" font-size="15.8" fill="#a6a6a6" fill-opacity="0.62" text-anchor="middle" dominant-baseline="central" transform="translate(540.1,437.7) rotate(-44.65)">稿</text>
<text class="wm" x="0" y="0" font-size="15.8" fill="#a6a6a6" fill-opacity="0.62" text-anchor="middle" dominant-baseline="central" transform="translate(552.5,425.4) rotate(-44.65)">，</text>
<text class="wm" x="0" y="0" font-size="15.8" fill="#a6a6a6" fill-opacity="0.62" text-anchor="middle" dominant-baseline="central" transform="translate(564.9,413.2) rotate(-44.65)">不</text>
<text class="wm" x="0" y="0" font-size="15.8" fill="#a6a6a6" fill-opacity="0.62" text-anchor="middle" dominant-baseline="central" transform="translate(577.3,400.9) rotate(-44.65)">构</text>
<text class="wm" x="0" y="0" font-size="15.8" fill="#a6a6a6" fill-opacity="0.62" text-anchor="middle" dominant-baseline="central" transform="translate(589.7,388.7) rotate(-44.65)">成</text>
<text class="wm" x="0" y="0" font-size="15.8" fill="#a6a6a6" fill-opacity="0.62" text-anchor="middle" dominant-baseline="central" transform="translate(602.1,376.4) rotate(-44.65)">任</text>
<text class="wm" x="0" y="0" font-size="15.8" fill="#a6a6a6" fill-opacity="0.62" text-anchor="middle" dominant-baseline="central" transform="translate(614.5,364.1) rotate(-44.65)">何</text>
<text class="wm" x="0" y="0" font-size="15.8" fill="#a6a6a6" fill-opacity="0.62" text-anchor="middle" dominant-baseline="central" transform="translate(626.9,351.9) rotate(-44.65)">承</text>
<text class="wm" x="0" y="0" font-size="15.8" fill="#a6a6a6" fill-opacity="0.62" text-anchor="middle" dominant-baseline="central" transform="translate(639.3,339.6) rotate(-44.65)">诺</text>
<text class="wm" x="0" y="0" font-size="15.8" fill="#a6a6a6" fill-opacity="0.62" text-anchor="middle" dominant-baseline="central" transform="translate(651.7,327.4) rotate(-44.65)">或</text>
<text class="wm" x="0" y="0" font-size="15.8" fill="#a6a6a6" fill-opacity="0.62" text-anchor="middle" dominant-baseline="central" transform="translate(664.1,315.1) rotate(-44.65)">保</text>
<text class="wm" x="0" y="0" font-size="15.8" fill="#a6a6a6" fill-opacity="0.62" text-anchor="middle" dominant-baseline="central" transform="translate(676.5,302.9) rotate(-44.65)">证</text>
<text class="wm" x="0" y="0" font-size="15.8" fill="#a6a6a6" fill-opacity="0.62" text-anchor="middle" dominant-baseline="central" transform="translate(706.7,273.1) rotate(-44.65)">内</text>
<text class="wm" x="0" y="0" font-size="15.8" fill="#a6a6a6" fill-opacity="0.62" text-anchor="middle" dominant-baseline="central" transform="translate(719.1,260.8) rotate(-44.65)">部</text>
<text class="wm" x="0" y="0" font-size="15.8" fill="#a6a6a6" fill-opacity="0.62" text-anchor="middle" dominant-baseline="central" transform="translate(731.5,248.5) rotate(-44.65)">过</text>
<text class="wm" x="0" y="0" font-size="15.8" fill="#a6a6a6" fill-opacity="0.62" text-anchor="middle" dominant-baseline="central" transform="translate(743.9,236.3) rotate(-44.65)">程</text>
<text class="wm" x="0" y="0" font-size="15.8" fill="#a6a6a6" fill-opacity="0.62" text-anchor="middle" dominant-baseline="central" transform="translate(756.3,224.0) rotate(-44.65)">资</text>
</g>
<rect x="0" y="580" width="740" height="8" fill="url(#bgrad)"/>
</svg>
<div class="lg" style="top:66px">建面约143<span class="m">m<sup>2</sup></span></div>
<div class="lg" style="top:112px">建面约180<span class="m">m<sup>2</sup></span></div>
<div class="lg" style="top:158px">建面约256<span class="m">m<sup>2</sup></span></div>
<div class="sh">搜狐号@搜狐焦点成都站</div><div class="sh2">搜狐号@搜狐焦点成都站</div>
</div></body></html>
